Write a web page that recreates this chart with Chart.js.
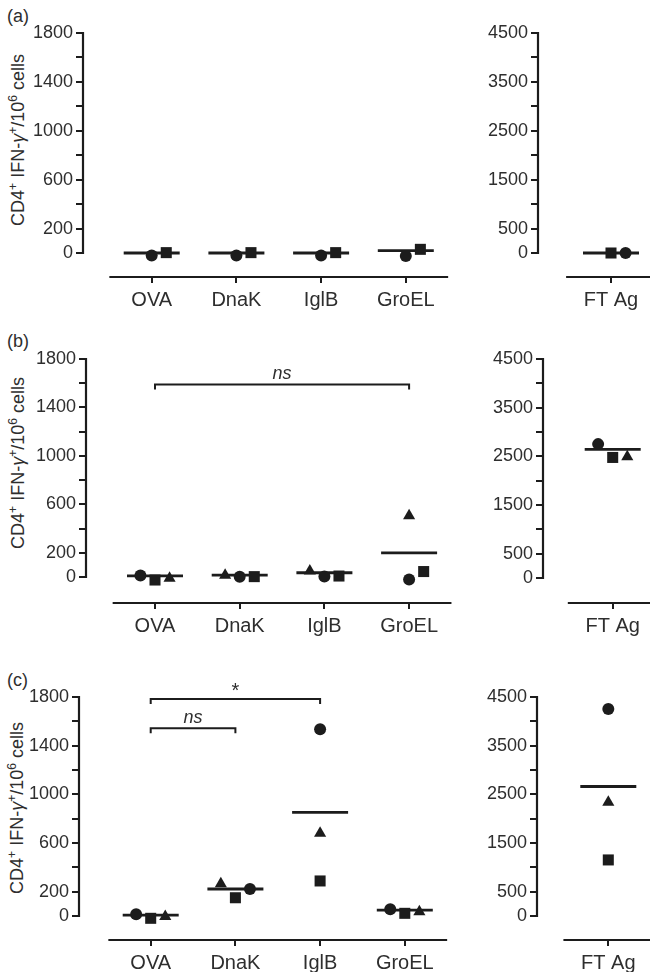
<!DOCTYPE html>
<html>
<head>
<meta charset="utf-8">
<script src="https://cdn.jsdelivr.net/npm/chart.js@4/dist/chart.umd.min.js"></script>
<style>
  html, body { margin:0; padding:0; background:#fff; overflow:hidden; }
  body { width:650px; height:972px; position:relative;
         font-family:"Liberation Sans", Arial, Helvetica, sans-serif; color:#2e2e2e; }
  canvas { position:absolute; }
  .plabel { position:absolute; font-size:18px; line-height:18px; color:#2e2e2e; }
  .ytitle { position:absolute; font-size:18px; line-height:18px; white-space:nowrap; color:#2e2e2e;
            transform:translate(-50%,-50%) rotate(-90deg); }
  .ytitle sup { font-size:12px; vertical-align:7px; line-height:0; }
</style>
</head>
<body>
<div class="plabel" style="left:7px;top:7px">(a)</div>
<div class="plabel" style="left:7px;top:332px">(b)</div>
<div class="plabel" style="left:7px;top:671px">(c)</div>
<div class="ytitle" style="left:18px;top:140px">CD4<sup>+</sup> IFN-<i>γ</i><sup>+</sup>/10<sup>6</sup> cells</div>
<div class="ytitle" style="left:18px;top:463px">CD4<sup>+</sup> IFN-<i>γ</i><sup>+</sup>/10<sup>6</sup> cells</div>
<div class="ytitle" style="left:17px;top:808px">CD4<sup>+</sup> IFN-<i>γ</i><sup>+</sup>/10<sup>6</sup> cells</div>

<canvas id="aL"></canvas><canvas id="aR"></canvas>
<canvas id="bL"></canvas><canvas id="bR"></canvas>
<canvas id="cL"></canvas><canvas id="cR"></canvas>

<script>
// ---------------- DATA ----------------
const leftCategories  = ['OVA', 'DnaK', 'IglB', 'GroEL'];
const rightCategories = ['FT Ag'];

const leftTicks       = [0, 200, 400, 600, 800, 1000, 1200, 1400, 1600, 1800];
const leftTickLabels  = ['0', '200', '', '600', '', '1000', '', '1400', '', '1800'];
const rightTicks      = [0, 500, 1000, 1500, 2000, 2500, 3000, 3500, 4000, 4500];
const rightTickLabels = ['0', '500', '', '1500', '', '2500', '', '3500', '', '4500'];

// panel (a)
const aCircle       = [-20, -20, -20, -25];
const aCircleSlot   = [0, 0, 0, 0];
const aSquare       = [3, 3, 3, 30];
const aSquareSlot   = [1, 1, 1, 1];
const aMean         = [0, 0, 0, 19];
const aFtCircle     = [0];
const aFtCircleSlot = [1];
const aFtSquare     = [0];
const aFtSquareSlot = [0];
const aFtMean       = [0];

// panel (b)
const bCircle         = [12, 3, 5, -20];
const bCircleSlot     = [-1, 0, 0, 0];
const bSquare         = [-25, 3, 8, 45];
const bSquareSlot     = [0, 1, 1, 1];
const bTriangle       = [-10, 15, 50, 505];
const bTriangleSlot   = [1, -1, -1, 0];
const bMean           = [10, 15, 35, 200];
const bFtCircle       = [2751];
const bFtCircleSlot   = [-1];
const bFtSquare       = [2477];
const bFtSquareSlot   = [0];
const bFtTriangle     = [2490];
const bFtTriangleSlot = [1];
const bFtMean         = [2642];
const bBracketFrom    = [0];
const bBracketTo      = [3];
const bBracketY       = [1590];
const bBracketLabel   = ['ns'];

// panel (c)
const cCircle         = [14, 222, 1534, 55];
const cCircleSlot     = [-1, 1, 0, -1];
const cSquare         = [-19, 150, 288, 22];
const cSquareSlot     = [0, 0, 0, 0];
const cTriangle       = [-5, 265, 680, 35];
const cTriangleSlot   = [1, -1, 0, 1];
const cMean           = [8, 222, 852, 49];
const cFtCircle       = [4253];
const cFtCircleSlot   = [0];
const cFtSquare       = [1152];
const cFtSquareSlot   = [0];
const cFtTriangle     = [2336];
const cFtTriangleSlot = [0];
const cFtMean         = [2661];
const cBracketFrom    = [0, 0];
const cBracketTo      = [2, 1];
const cBracketY       = [1783, 1543];
const cBracketLabel   = ['*', 'ns'];

// ---------------- STYLE / LAYOUT ----------------
const INK = '#1c1c1c';
const TXT = '#2e2e2e';
const FONT = '"Liberation Sans", Arial, Helvetica, sans-serif';
const SLOT = 0.172;      // horizontal jitter step (category units)
const PX_PER_CAT = 84.7;

Chart.defaults.font.family = FONT;
Chart.defaults.color = TXT;

const decorPlugin = {
  id: 'decor',
  afterDraw(chart, args, o) {
    const { ctx, chartArea, scales } = chart;
    const x = scales.x, y = scales.y;
    ctx.save();
    ctx.strokeStyle = INK;
    ctx.fillStyle = INK;
    ctx.lineWidth = 2.2;
    ctx.beginPath();
    ctx.moveTo(chartArea.left, y.getPixelForValue(o.yMax) - 1);
    ctx.lineTo(chartArea.left, y.getPixelForValue(0) + 1);
    ctx.stroke();
    ctx.beginPath();
    ctx.moveTo(x.getPixelForValue(-o.ext), chartArea.bottom);
    ctx.lineTo(x.getPixelForValue(o.nCat - 1 + o.ext), chartArea.bottom);
    ctx.stroke();
    ctx.lineWidth = 2;
    (o.from || []).forEach((f, i) => {
      const x1 = x.getPixelForValue(f);
      const x2 = x.getPixelForValue(o.to[i]);
      const yp = y.getPixelForValue(o.yv[i]);
      ctx.beginPath();
      ctx.moveTo(x1, yp + 5); ctx.lineTo(x1, yp); ctx.lineTo(x2, yp); ctx.lineTo(x2, yp + 5);
      ctx.stroke();
      const lab = o.labels[i];
      ctx.textAlign = 'center';
      ctx.textBaseline = 'alphabetic';
      ctx.fillStyle = TXT;
      if (lab === '*') {
        ctx.font = '20px ' + FONT;
        ctx.fillText(lab, (x1 + x2) / 2, yp - 2);
      } else {
        ctx.font = 'italic 18px ' + FONT;
        ctx.fillText(lab, (x1 + x2) / 2, yp - 5);
      }
    });
    ctx.restore();
  }
};

function pts(values, slots) {
  return values.map((v, i) => ({ x: i + slots[i] * SLOT, y: v }));
}
function markerSet(values, slots, style, radius) {
  return {
    type: 'scatter', data: pts(values, slots), pointStyle: style, pointRadius: radius,
    pointBackgroundColor: INK, pointBorderColor: INK, pointBorderWidth: 0, clip: false
  };
}
function meanSet(values) {
  return {
    type: 'scatter', data: values.map((v, i) => ({ x: i, y: v })), pointStyle: 'line',
    pointRadius: 28, pointBorderColor: INK, pointBorderWidth: 2.8, clip: false
  };
}

function panel(p) {
  const cv = document.getElementById(p.id);
  cv.width = p.w; cv.height = p.h;
  cv.style.left = p.left + 'px'; cv.style.top = p.top + 'px';
  cv.style.width = p.w + 'px'; cv.style.height = p.h + 'px';

  const chartLeft = p.axisX - p.left;
  const chartTop = p.topPx - p.top;
  const chartBottom = p.xAxisY - p.top;
  const chartRight = p.w - p.padR;
  const yMin = -p.yMax * (p.xAxisY - p.zeroPx) / (p.zeroPx - p.topPx);
  const xMin = (p.axisX - p.tickPx) / PX_PER_CAT;
  const xMax = (p.left + chartRight - p.tickPx) / PX_PER_CAT;

  const chart = new Chart(cv, {
    type: 'scatter',
    data: { datasets: p.datasets },
    options: {
      responsive: false, animation: false, devicePixelRatio: 1, events: [],
      layout: { padding: { top: chartTop, left: 0, right: p.padR, bottom: 0 } },
      plugins: {
        legend: { display: false }, tooltip: { enabled: false },
        decor: { yMax: p.yMax, ext: p.ext, nCat: p.cats.length,
                 from: p.bFrom, to: p.bTo, yv: p.bY, labels: p.bLab }
      },
      scales: {
        x: {
          type: 'linear', min: xMin, max: xMax,
          border: { display: false },
          grid: { drawOnChartArea: false, drawTicks: true, tickLength: 6, lineWidth: 2, color: INK },
          afterBuildTicks: s => { s.ticks = p.cats.map((c, i) => ({ value: i })); },
          afterFit: s => { s.height = p.h - chartBottom; s.paddingLeft = 0; s.paddingRight = 0; },
          ticks: {
            autoSkip: false, maxRotation: 0, minRotation: 0, padding: 5,
            font: { size: 20 }, color: TXT,
            callback: v => (p.cats[v] !== undefined ? p.cats[v] : '')
          }
        },
        y: {
          type: 'linear', min: yMin, max: p.yMax,
          border: { display: false },
          grid: { drawOnChartArea: false, drawTicks: true, tickLength: 7, lineWidth: 2, color: INK },
          afterBuildTicks: s => { s.ticks = p.yTicks.map(v => ({ value: v })); },
          afterFit: s => { s.width = chartLeft; s.paddingTop = 0; s.paddingBottom = 0; },
          ticks: {
            autoSkip: false, padding: 3, font: { size: 18 }, color: TXT,
            callback: v => { const k = p.yTicks.indexOf(v); return k >= 0 ? p.yLabels[k] : ''; }
          }
        }
      }
    },
    plugins: [decorPlugin]
  });

  // keep the category spacing at PX_PER_CAT whatever width the layout left for the plot
  for (let k = 0; k < 6; k++) {
    const xs = chart.scales.x;
    const curMin = (xs.left - p.tickPx + p.left) / PX_PER_CAT;
    const wantMax = curMin + (xs.right - xs.left) / PX_PER_CAT;
    if (Math.abs(chart.options.scales.x.max - wantMax) < 0.0005 &&
        Math.abs(chart.options.scales.x.min - curMin) < 0.0005) break;
    chart.options.scales.x.min = curMin;
    chart.options.scales.x.max = wantMax;
    chart.update('none');
  }
}

// ---------------- ROWS ----------------
panel({ id: 'aL', left: 0, top: 0, w: 470, h: 320, padR: 5, axisX: 83, topPx: 33, zeroPx: 253, xAxisY: 277,
        tickPx: 151.7, yMax: 1800, yTicks: leftTicks, yLabels: leftTickLabels, cats: leftCategories, ext: 0.5,
        datasets: [meanSet(aMean), markerSet(aCircle, aCircleSlot, 'circle', 6), markerSet(aSquare, aSquareSlot, 'rect', 7.8)] });
panel({ id: 'aR', left: 470, top: 0, w: 240, h: 320, padR: 0, axisX: 538, topPx: 33, zeroPx: 253, xAxisY: 277,
        tickPx: 611, yMax: 4500, yTicks: rightTicks, yLabels: rightTickLabels, cats: rightCategories, ext: 0.53,
        datasets: [meanSet(aFtMean), markerSet(aFtCircle, aFtCircleSlot, 'circle', 6), markerSet(aFtSquare, aFtSquareSlot, 'rect', 7.8)] });

panel({ id: 'bL', left: 0, top: 320, w: 470, h: 335, padR: 5, axisX: 86, topPx: 359, zeroPx: 577, xAxisY: 603,
        tickPx: 155, yMax: 1800, yTicks: leftTicks, yLabels: leftTickLabels, cats: leftCategories, ext: 0.5,
        bFrom: bBracketFrom, bTo: bBracketTo, bY: bBracketY, bLab: bBracketLabel,
        datasets: [meanSet(bMean), markerSet(bCircle, bCircleSlot, 'circle', 6), markerSet(bSquare, bSquareSlot, 'rect', 7.8),
                   markerSet(bTriangle, bTriangleSlot, 'triangle', 7)] });
panel({ id: 'bR', left: 470, top: 320, w: 240, h: 335, padR: 0, axisX: 543, topPx: 359, zeroPx: 578, xAxisY: 603,
        tickPx: 612.7, yMax: 4500, yTicks: rightTicks, yLabels: rightTickLabels, cats: rightCategories, ext: 0.53,
        datasets: [meanSet(bFtMean), markerSet(bFtCircle, bFtCircleSlot, 'circle', 6), markerSet(bFtSquare, bFtSquareSlot, 'rect', 7.8),
                   markerSet(bFtTriangle, bFtTriangleSlot, 'triangle', 7)] });

panel({ id: 'cL', left: 0, top: 655, w: 470, h: 317, padR: 5, axisX: 79, topPx: 697, zeroPx: 916, xAxisY: 940,
        tickPx: 150.7, yMax: 1800, yTicks: leftTicks, yLabels: leftTickLabels, cats: leftCategories, ext: 0.5,
        bFrom: cBracketFrom, bTo: cBracketTo, bY: cBracketY, bLab: cBracketLabel,
        datasets: [meanSet(cMean), markerSet(cCircle, cCircleSlot, 'circle', 6), markerSet(cSquare, cSquareSlot, 'rect', 7.8),
                   markerSet(cTriangle, cTriangleSlot, 'triangle', 7)] });
panel({ id: 'cR', left: 470, top: 655, w: 240, h: 317, padR: 0, axisX: 537, topPx: 697, zeroPx: 916, xAxisY: 940,
        tickPx: 608.3, yMax: 4500, yTicks: rightTicks, yLabels: rightTickLabels, cats: rightCategories, ext: 0.53,
        datasets: [meanSet(cFtMean), markerSet(cFtCircle, cFtCircleSlot, 'circle', 6), markerSet(cFtSquare, cFtSquareSlot, 'rect', 7.8),
                   markerSet(cFtTriangle, cFtTriangleSlot, 'triangle', 7)] });
</script>
</body>
</html>
